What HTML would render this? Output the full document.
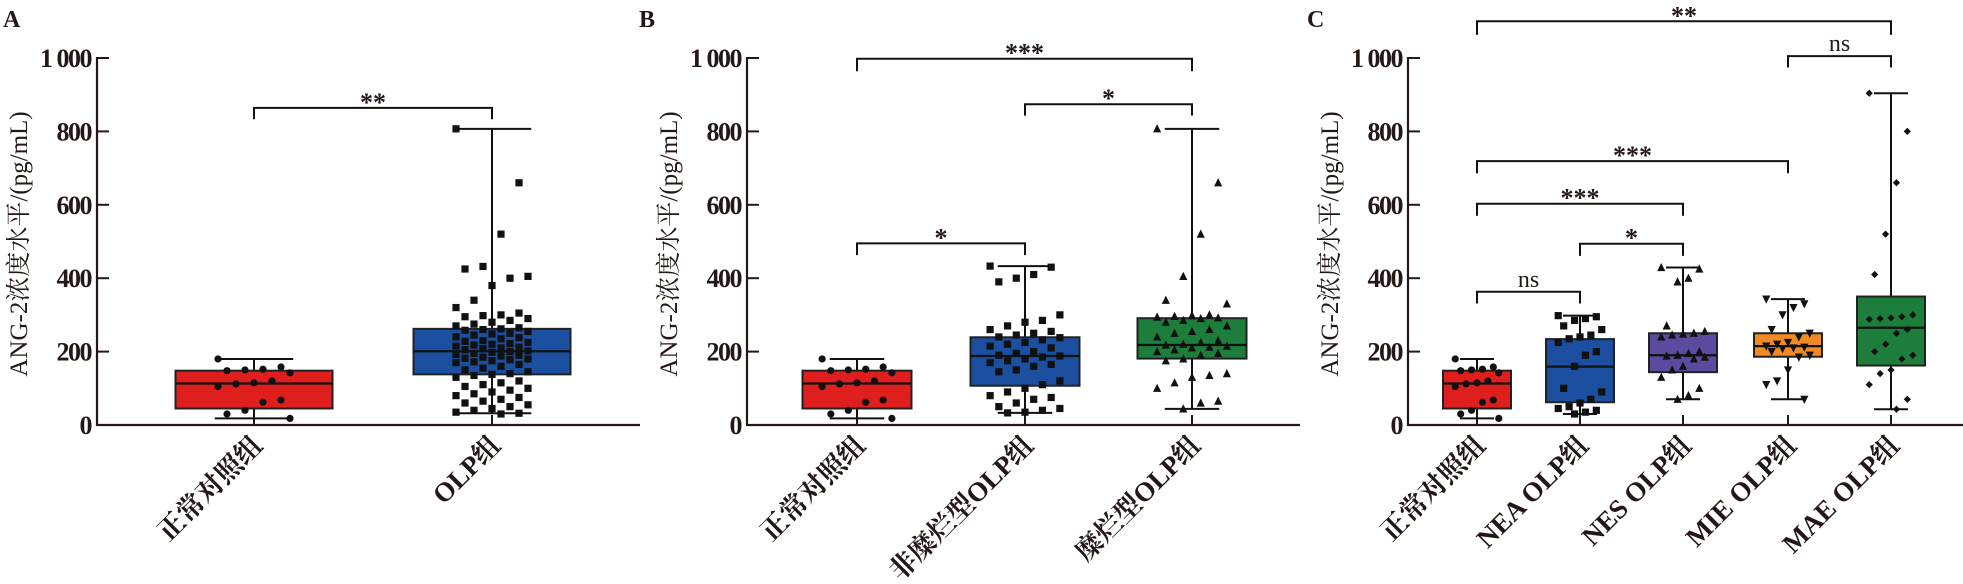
<!DOCTYPE html>
<html><head><meta charset="utf-8">
<style>
html,body{margin:0;padding:0;background:#fff;}
svg{display:block;}
text{font-family:"Liberation Serif","Noto Serif CJK SC",serif;fill:#231815;}
</style></head>
<body>
<svg id="chart" width="1963" height="584" viewBox="0 0 1963 584" xmlns="http://www.w3.org/2000/svg"></svg>
<script>
// ---------- data ----------
const yTicks = [0, 200, 400, 600, 800, 1000];
const yTickLabels = ["0", "200", "400", "600", "800", "1 000"];

const catsA = ["正常对照组", "OLP组"];
const catsB = ["正常对照组", "非糜烂型OLP组", "糜烂型OLP组"];
const catsC = ["正常对照组", "NEA OLP组", "NES OLP组", "MIE OLP组", "MAE OLP组"];

// box stats: [whiskerLow, q1, median, q3, whiskerHigh]
const statsA = [[18, 45, 113, 148, 180], [32, 138, 201, 262, 807]];
const statsB = [[18, 45, 113, 148, 180], [33, 107, 188, 239, 433], [44, 181, 218, 291, 807]];
const statsC = [[18, 45, 113, 148, 180], [30, 62, 159, 234, 298], [70, 144, 190, 250, 429], [70, 186, 215, 250, 343], [43, 162, 265, 350, 904]];

const ptsNormal = [180,158,152,150,148,142,120,115,112,105,68,62,40,30,18];
const ptsOLP = [807,660,520,432,425,405,400,380,340,320,305,300,298,295,290,285,280,275,270,265,262,260,258,255,250,248,245,240,238,235,230,228,225,222,220,218,215,212,210,208,205,202,200,198,195,192,190,188,185,182,180,178,175,172,170,165,160,155,150,145,140,138,135,130,120,115,110,105,100,95,90,85,80,75,70,65,60,55,50,45,40,35,32,30];
const ptsNonErosive = [433,430,410,400,390,300,285,280,270,260,255,250,245,240,238,232,225,220,215,210,200,195,190,188,185,180,175,170,165,160,150,145,120,110,100,90,80,75,70,60,50,45,40,35,33];
const ptsErosive = [807,660,520,405,340,330,300,298,296,294,292,290,285,280,270,260,255,250,240,230,225,220,218,215,212,210,205,200,195,190,180,175,140,135,130,115,100,65,60,44];
const ptsNEA = [298,295,290,285,270,260,245,240,235,225,200,190,160,100,90,70,60,50,45,40,35,30];
const ptsNES = [429,425,400,390,270,255,250,248,245,240,200,195,190,188,185,180,160,150,130,100,80,70];
const ptsMIE = [343,330,320,300,260,250,240,225,220,215,212,210,208,200,190,185,150,120,110,70];
const ptsMAE = [904,800,660,520,410,300,295,292,290,288,260,250,220,200,190,180,150,140,110,70,43];

// significance brackets: [fromCat, toCat, barValue, legValue, label]
const sigA = [[0, 1, 864, 833, "**"]];
const sigB = [[0, 2, 998, 964, "***"], [1, 2, 874, 843, "*"], [0, 1, 495, 463, "*"]];
const sigC = [[0, 4, 1100, 1063, "**"], [3, 4, 1005, 974, "ns"], [0, 3, 719, 686, "***"], [0, 2, 603, 570, "***"], [1, 2, 494, 461, "*"], [0, 1, 363, 331, "ns"]];

// ---------- drawing ----------
const NS = "http://www.w3.org/2000/svg";
const svg = document.getElementById("chart");
const Y0 = 425, PXU = 0.367;
function yScale(v){ return Y0 - v * PXU; }
function mk(tag, attrs, parent){
  const e = document.createElementNS(NS, tag);
  for (const k in attrs) e.setAttribute(k, attrs[k]);
  (parent || svg).appendChild(e);
  return e;
}
function marker(g, shape, x, y){
  let e;
  const s = 3.6;
  if (shape === "circle") e = mk("circle", {cx:x, cy:y, r:s, fill:"#111"}, g);
  else if (shape === "square") e = mk("rect", {x:x-s, y:y-s, width:2*s, height:2*s, fill:"#111"}, g);
  else if (shape === "tri") e = mk("polygon", {points:`${x},${y-s-1} ${x-s-0.5},${y+s} ${x+s+0.5},${y+s}`, fill:"#111"}, g);
  else if (shape === "itri") e = mk("polygon", {points:`${x},${y+s+1} ${x-s-0.5},${y-s} ${x+s+0.5},${y-s}`, fill:"#111"}, g);
  else e = mk("polygon", {points:`${x},${y-s} ${x+s},${y} ${x},${y+s} ${x-s},${y}`, fill:"#111"}, g);
  
  
}

function drawPanel(p){
  const g = mk("g", {});
  
  
  const lt = mk("text", {x:p.letterX, y:27, "font-size":24, "font-weight":"bold"}, g);
  lt.textContent = p.letter;
  
  
  // y-axis title
  const yt = mk("text", {x:0, y:0, "font-size":25, "text-anchor":"middle", transform:`translate(${p.axisX-70},244) rotate(-90)`}, g);
  yt.textContent = "ANG-2浓度水平/(pg/mL)";
  
  
  // axes
  const ya = mk("line", {x1:p.axisX, y1:yScale(1000)-1, x2:p.axisX, y2:Y0+1, stroke:"#231815", "stroke-width":2.2}, g);
  
  
  const xa = mk("line", {x1:p.axisX, y1:Y0, x2:p.axisEnd, y2:Y0, stroke:"#231815", "stroke-width":2.2}, g);
  
  
  yTicks.forEach((t, i) => {
    const y = yScale(t);
    const tk = mk("line", {x1:p.axisX, y1:y, x2:p.axisX+12, y2:y, stroke:"#231815", "stroke-width":2}, g);
    
    
    const tl = mk("text", {x:p.axisX-6, y:y+9, "font-size":26, "font-weight":"bold", "text-anchor":"end", "letter-spacing":-1.5}, g);
    tl.textContent = yTickLabels[i];
    
    
  });
  p.cats.forEach((c, i) => {
    const x = p.catX[i];
    const st = p.stats[i];
    const bw = p.boxW, cw = p.boxW * 0.5;
    const tk = mk("line", {x1:x, y1:Y0, x2:x, y2:Y0-10, stroke:"#231815", "stroke-width":2}, g);
    
    
    // whisker line
    const wl = mk("line", {x1:x, y1:yScale(st[0]), x2:x, y2:yScale(st[4]), stroke:"#111", "stroke-width":2}, g);
    
    
    const box = mk("rect", {x:x-bw/2, y:yScale(st[3]), width:bw, height:yScale(st[1])-yScale(st[3]), fill:p.colors[i], stroke:"#222", "stroke-width":2}, g);
    
    
    const md = mk("line", {x1:x-bw/2, y1:yScale(st[2]), x2:x+bw/2, y2:yScale(st[2]), stroke:"#111", "stroke-width":2.2}, g);
    
    
    [st[0], st[4]].forEach(v => {
      const cap = mk("line", {x1:x-cw/2, y1:yScale(v), x2:x+cw/2, y2:yScale(v), stroke:"#111", "stroke-width":2}, g);
      
      
    });
    const pts = p.pts[i];
    const spread = Math.min(bw * 0.32, 36);
    pts.forEach((v, j) => {
      const off = (((j * 7) % 9) - 4) / 4 * spread;
      marker(g, p.shapes[i], x + off, yScale(v));
    });
    const lab = mk("text", {x:0, y:0, "font-size":27, "font-weight":"bold", "text-anchor":"end", transform:`translate(${x+10},${Y0+22}) rotate(-45)`}, g);
    lab.textContent = c;
    
    
  });
  p.sig.forEach(s => {
    const x1 = p.catX[s[0]], x2 = p.catX[s[1]];
    const yb = yScale(s[2]), yl = yScale(s[3]);
    const br = mk("polyline", {points:`${x1},${yl} ${x1},${yb} ${x2},${yb} ${x2},${yl}`, fill:"none", stroke:"#111", "stroke-width":2}, g);
    
    
    const isNs = s[4] === "ns";
    const t = mk("text", {x:(x1+x2)/2, y:yb - (isNs ? 5 : -3), "font-size":isNs ? 24 : 26, "font-weight":isNs ? "normal" : "bold", "text-anchor":"middle"}, g);
    t.textContent = s[4];
    
    
  });
}

drawPanel({letter:"A", letterX:3, axisX:97, axisEnd:640, catX:[254, 492], boxW:157,
  cats:catsA, stats:statsA, pts:[ptsNormal, ptsOLP], shapes:["circle","square"],
  colors:["#df1f1d","#1c4fa0"], sig:sigA});
drawPanel({letter:"B", letterX:639, axisX:747, axisEnd:1300, catX:[857, 1025, 1192], boxW:109,
  cats:catsB, stats:statsB, pts:[ptsNormal, ptsNonErosive, ptsErosive], shapes:["circle","square","tri"],
  colors:["#df1f1d","#1c4fa0","#1d7d3a"], sig:sigB});
drawPanel({letter:"C", letterX:1307, axisX:1408, axisEnd:1963, catX:[1477, 1580, 1683, 1788, 1891], boxW:68,
  cats:catsC, stats:statsC, pts:[ptsNormal, ptsNEA, ptsNES, ptsMIE, ptsMAE], shapes:["circle","square","tri","itri","diamond"],
  colors:["#df1f1d","#1c4fa0","#5b4b9e","#ef8a24","#1d7d3a"], sig:sigC});
</script>
</body></html>
